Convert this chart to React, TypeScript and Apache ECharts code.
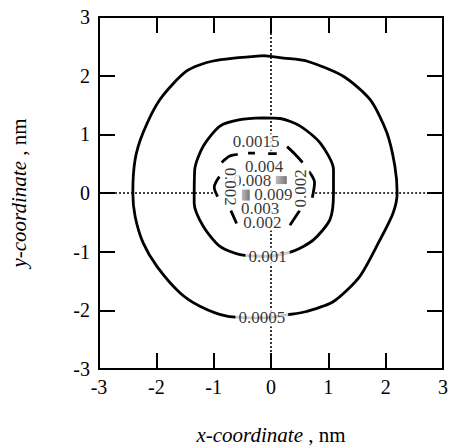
import React, { useEffect, useRef } from "react";
import * as echarts from "echarts";

type Pt = [number, number];

const axisMin = -3;
const axisMax = 3;
const axisStep = 1;

// contour 0.0005 (outer)
const contour0005: Pt[] = [
  [-0.13, 2.34], [0.22, 2.3], [0.62, 2.25], [1.26, 1.99], [1.73, 1.59], [2.02, 1.03],
  [2.16, 0.46], [2.2, 0.0], [2.13, -0.34], [1.9, -0.8], [1.55, -1.42], [1.09, -1.85],
  [0.62, -2.02], [0.33, -2.07], [-0.16, -2.13], [-0.77, -2.1], [-1.24, -1.93],
  [-1.59, -1.7], [-1.99, -1.25], [-2.23, -0.85], [-2.37, -0.4], [-2.41, 0.0],
  [-2.37, 0.57], [-2.23, 1.03], [-1.94, 1.59], [-1.47, 2.08], [-1.01, 2.25], [-0.13, 2.34],
];

// contour 0.001
const contour001: Pt[] = [
  [-0.13, 1.28], [0.16, 1.27], [0.51, 1.14], [0.86, 0.85], [1.09, 0.4], [1.09, 0.0],
  [1.03, -0.45], [0.74, -0.8], [0.39, -0.99], [-0.06, -1.08], [-0.54, -1.05],
  [-0.89, -0.91], [-1.18, -0.57], [-1.34, -0.17], [-1.33, 0.4], [-1.18, 0.8],
  [-0.89, 1.14], [-0.54, 1.25], [-0.13, 1.28],
];

// visible pieces of the inner 0.0015 / 0.002 contours
const innerSegA: Pt[] = [[-0.86, 0.52], [-0.72, 0.63], [-0.58, 0.66]];
const innerSegB: Pt[] = [[-0.4, 0.68], [-0.28, 0.68]];
const innerSegC: Pt[] = [[-0.05, 0.67], [0.1, 0.67]];
const innerSegD: Pt[] = [[0.28, 0.79], [0.42, 0.66], [0.55, 0.52]];
const innerSegE: Pt[] = [[0.66, 0.37], [0.76, 0.18], [0.72, -0.08]];
const innerSegF: Pt[] = [[-0.9, 0.28], [-0.99, 0.1], [-0.93, -0.06]];
const innerSegG: Pt[] = [[-0.7, -0.3], [-0.6, -0.52]];
const innerSegH: Pt[] = [[0.5, -0.3], [0.33, -0.55]];
const innerSegments: Pt[][] = [innerSegA, innerSegB, innerSegC, innerSegD, innerSegE, innerSegF, innerSegG, innerSegH];

// dotted cross-hair pieces
const crossH1: Pt[] = [[-3, 0], [-0.99, 0]];
const crossH2: Pt[] = [[0.77, 0], [3, 0]];
const crossV1: Pt[] = [[0, 3], [0, 0.66]];
const crossV2: Pt[] = [[0, -0.63], [0, -3]];
const crossSegments: Pt[][] = [crossH1, crossH2, crossV1, crossV2];

// contour labels
const labelTexts = ["0.0005", "0.001", "0.0015", "0.004", "0.008", "0.009", "0.003", "0.002", "0.002", "0.002"];
const labelPos: Pt[] = [
  [-0.16, -2.13], [-0.06, -1.08], [-0.26, 0.87], [-0.12, 0.45], [-0.33, 0.21],
  [0.04, -0.03], [-0.19, -0.27], [-0.15, -0.5], [-0.7, 0.11], [0.52, 0.08],
];
const labelRotate = [0, 0, 0, 0, 0, 0, 0, 0, -90, 90];

// grey patches
const patchPos: Pt[] = [[0.18, 0.22], [-0.44, -0.036]];
const patchSize: Pt[] = [[11, 8], [8, 11]];

const FONT = "Liberation Serif";

export default function App() {
  const ref = useRef<HTMLDivElement>(null);
  useEffect(() => {
    if (!ref.current) return;
    const chart = echarts.init(ref.current, undefined, { renderer: "svg" });
    const axisCommon = {
      type: "value" as const,
      min: axisMin,
      max: axisMax,
      interval: axisStep,
      splitLine: { show: false },
      axisLine: { show: true, onZero: false, lineStyle: { color: "#000", width: 2 } },
      axisTick: { show: true, inside: true, length: 16, lineStyle: { color: "#000", width: 2 } },
    };
    const series: any[] = [];
    crossSegments.forEach((seg) =>
      series.push({
        type: "line", data: seg, symbol: "none", silent: true, z: 1,
        lineStyle: { color: "#000", width: 1.6, type: [2, 2] },
      })
    );
    [contour0005, contour001].forEach((c) =>
      series.push({
        type: "line", data: c, symbol: "none", smooth: 0.25, z: 2,
        lineStyle: { color: "#000", width: 2.8 },
      })
    );
    innerSegments.forEach((seg) =>
      series.push({
        type: "line", data: seg, symbol: "none", smooth: 0.3, z: 2,
        lineStyle: { color: "#000", width: 2.8 },
      })
    );
    series.push({
      type: "scatter",
      z: 5,
      symbolSize: 0.1,
      itemStyle: { color: "rgba(0,0,0,0)" },
      data: labelPos.map((p, i) => ({
        value: p,
        name: labelTexts[i],
        label: { rotate: labelRotate[i] },
      })),
      label: {
        show: true,
        position: "inside",
        formatter: (p: any) => p.name,
        fontFamily: FONT,
        fontSize: 17,
        color: "#000",
        backgroundColor: "#fff",
        padding: [0, 3],
      },
    });
    series.push({
      type: "scatter",
      z: 6,
      symbol: "rect",
      data: patchPos.map((p, i) => ({ value: p, symbolSize: patchSize[i] })),
      itemStyle: {
        color: new echarts.graphic.LinearGradient(0, 0, 1, 0, [
          { offset: 0, color: "#aaaaaa" },
          { offset: 1, color: "#555555" },
        ]),
      },
    });
    const nameStyle = {
      fontFamily: FONT, fontSize: 21, color: "#000",
      rich: {
        i: { fontStyle: "italic", fontFamily: FONT, fontSize: 21, color: "#000" },
        n: { fontFamily: FONT, fontSize: 21, color: "#000" },
      },
    };
    chart.setOption({
      animation: false,
      backgroundColor: "#fff",
      textStyle: { fontFamily: FONT },
      grid: { left: 99, right: 7, top: 17, bottom: 77, outerBoundsMode: "none" },
      xAxis: [
        {
          ...axisCommon,
          position: "bottom",
          axisLabel: { fontFamily: FONT, fontSize: 20, color: "#000", margin: 8 },
          name: "{i|x-coordinate}{n| , nm}",
          nameLocation: "middle",
          nameGap: 55,
          nameTextStyle: nameStyle,
        },
        { ...axisCommon, position: "top", axisLabel: { show: false } },
      ],
      yAxis: [
        {
          ...axisCommon,
          position: "left",
          axisLabel: { fontFamily: FONT, fontSize: 20, color: "#000", margin: 9 },
          name: "{i|y-coordinate}{n| , nm}",
          nameLocation: "middle",
          nameGap: 70,
          nameTextStyle: nameStyle,
        },
        { ...axisCommon, position: "right", axisLabel: { show: false } },
      ],
      series,
    });
    return () => chart.dispose();
  }, []);
  return <div ref={ref} style={{ position: "fixed", left: 0, top: 0, width: 450, height: 446 }} />;
}
